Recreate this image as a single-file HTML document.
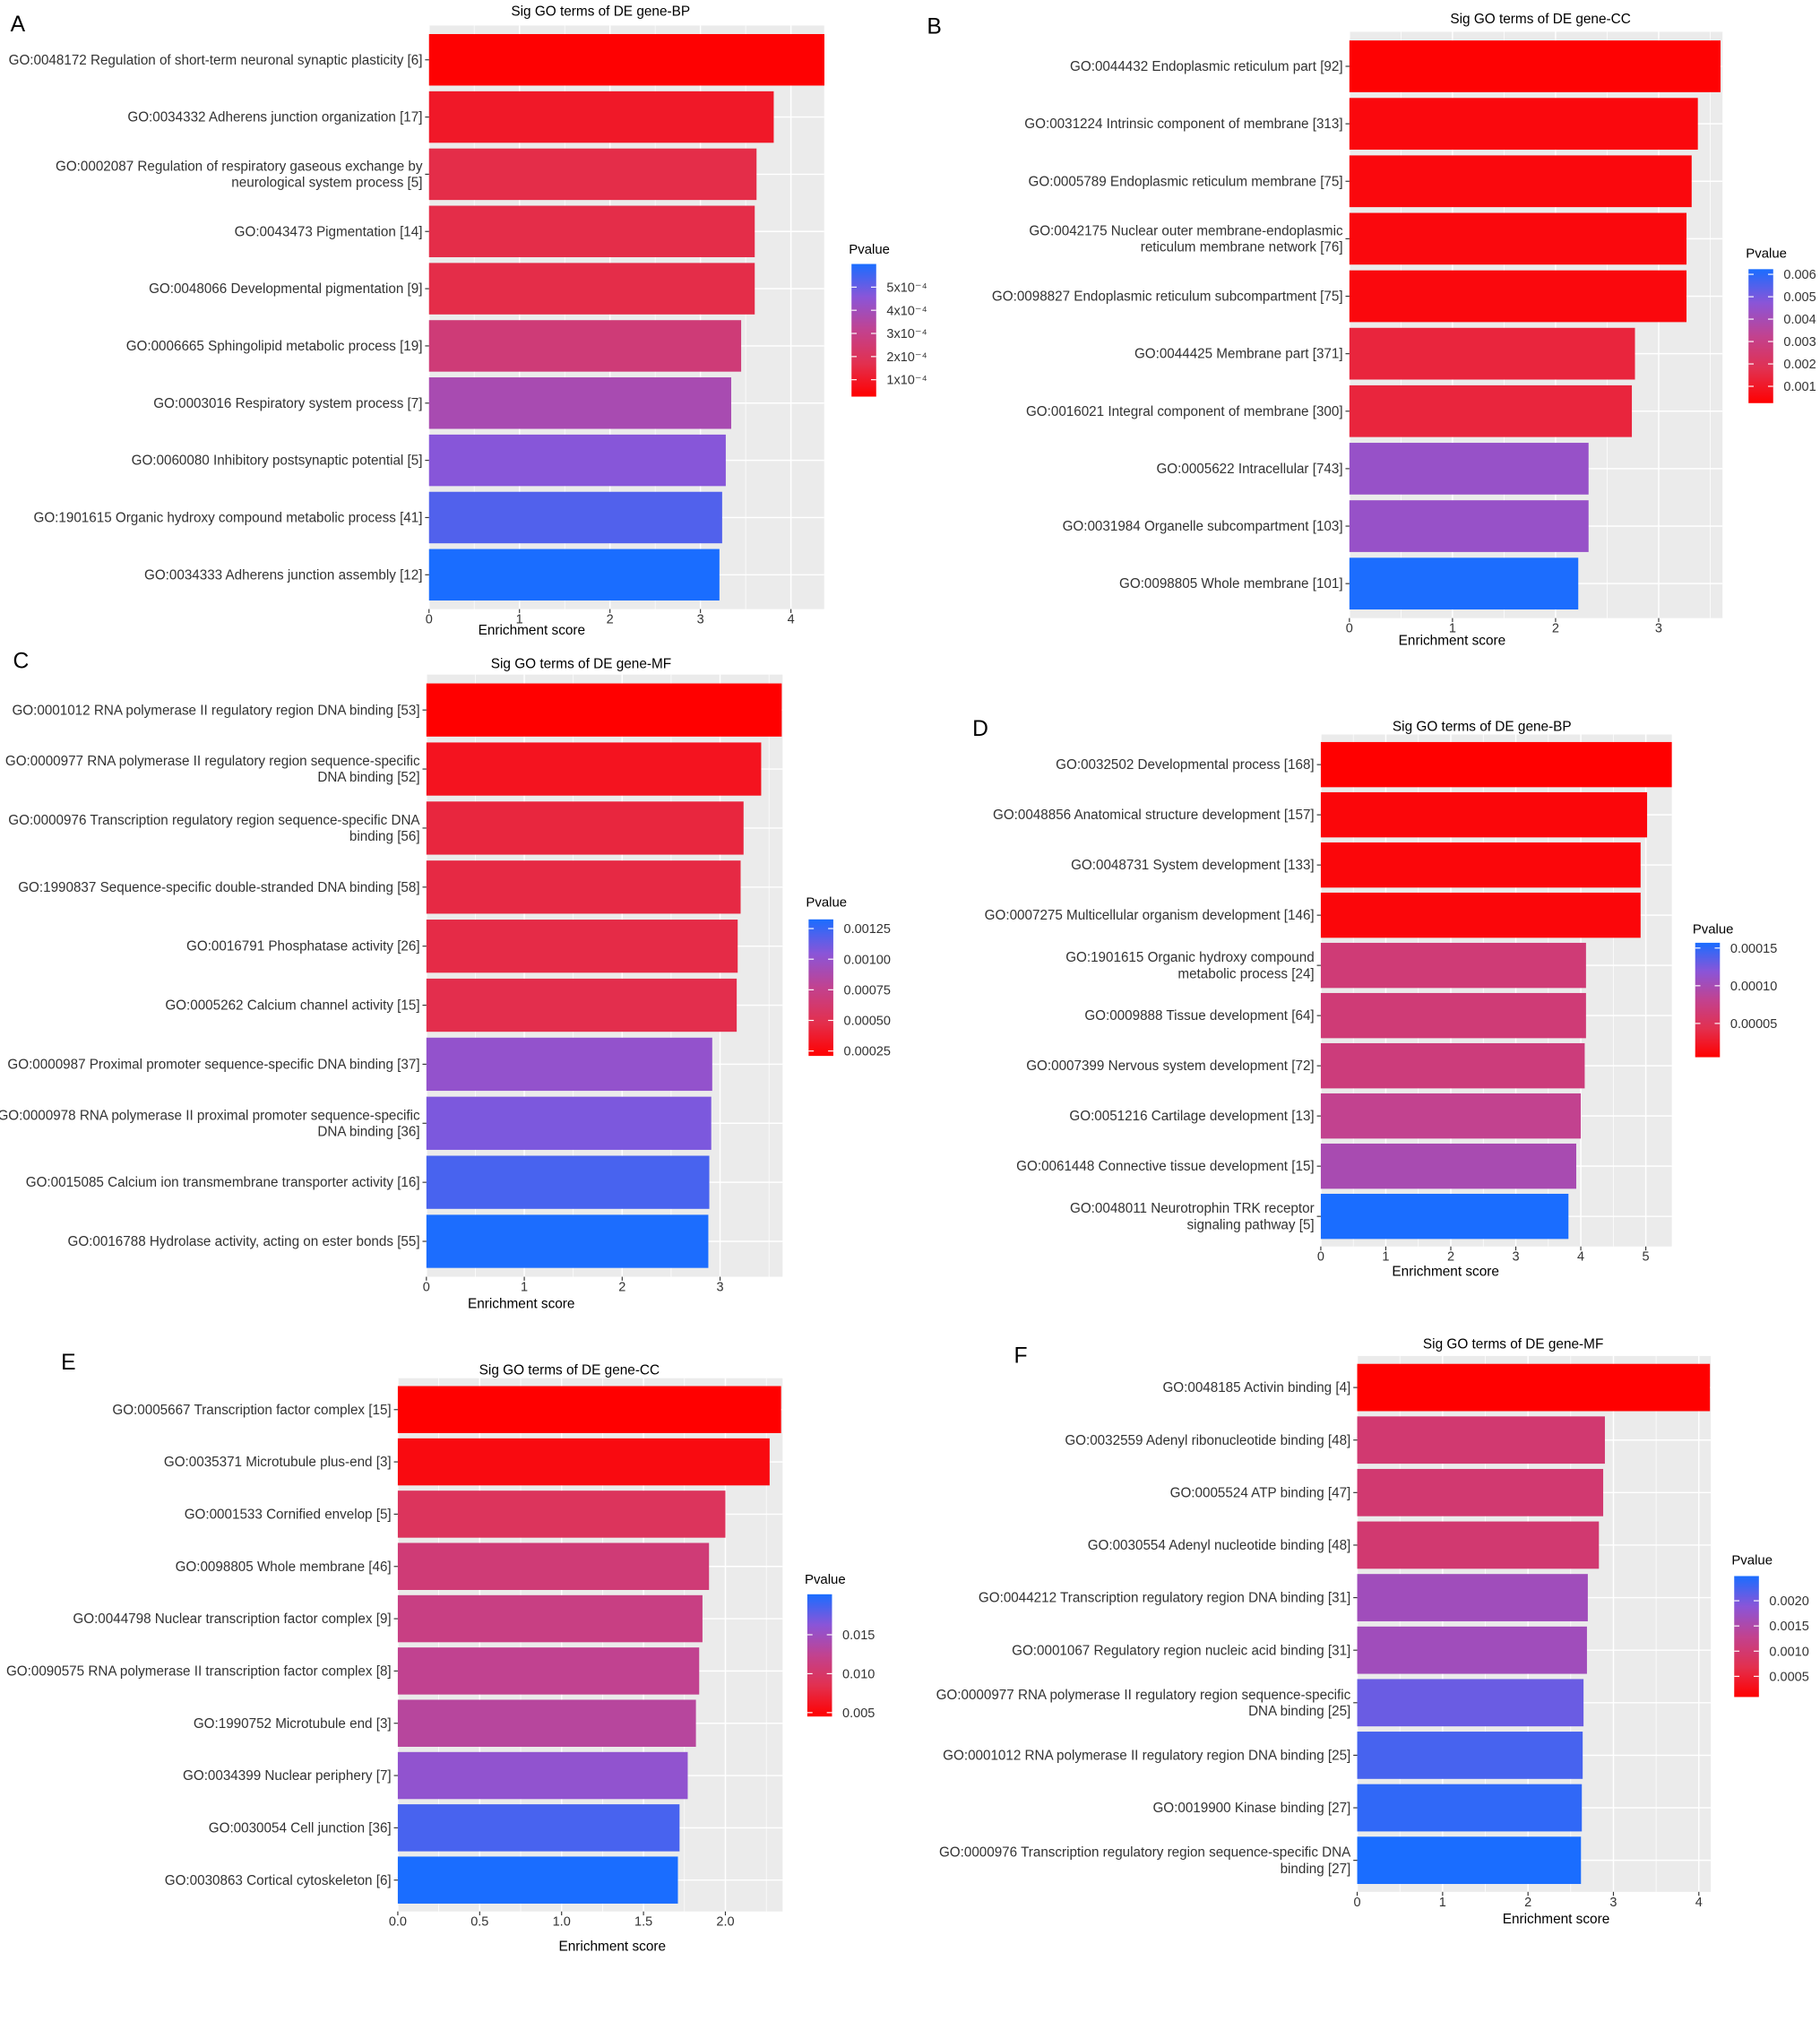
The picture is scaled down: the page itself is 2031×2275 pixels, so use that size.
<!DOCTYPE html>
<html><head><meta charset="utf-8"><title>Sig GO terms</title>
<style>
html,body{margin:0;padding:0;background:#fff;}
svg{display:block;font-family:"Liberation Sans",Arial,sans-serif;}
</style></head>
<body>
<svg id="fig" width="2031" height="2275" viewBox="0 0 1400 1568" preserveAspectRatio="none" xmlns="http://www.w3.org/2000/svg">
<defs>
<linearGradient id="pgrad" x1="0" y1="1" x2="0" y2="0">
<stop offset="0" stop-color="#ff0000"/><stop offset="0.25" stop-color="#e2304f"/><stop offset="0.5" stop-color="#c2428f"/><stop offset="0.75" stop-color="#8a55d8"/><stop offset="1" stop-color="#1a6dff"/>
</linearGradient>
</defs>
</svg>
<script>
// ---- Panel A data ----
const aTerms=["GO:0048172 Regulation of short-term neuronal synaptic plasticity [6]","GO:0034332 Adherens junction organization [17]","GO:0002087 Regulation of respiratory gaseous exchange by|neurological system process [5]","GO:0043473 Pigmentation [14]","GO:0048066 Developmental pigmentation [9]","GO:0006665 Sphingolipid metabolic process [19]","GO:0003016 Respiratory system process [7]","GO:0060080 Inhibitory postsynaptic potential [5]","GO:1901615 Organic hydroxy compound metabolic process [41]","GO:0034333 Adherens junction assembly [12]"];
const aScores=[4.37,3.81,3.62,3.6,3.6,3.45,3.34,3.28,3.24,3.21];
const aPvals=[0.3e-4,1.0e-4,1.6e-4,1.6e-4,1.6e-4,2.6e-4,3.8e-4,4.6e-4,5.3e-4,6.0e-4];
const aXTicks=[0,1,2,3,4];
const aLegendTicks=[1e-4,2e-4,3e-4,4e-4,5e-4];
const aLegendLabels=["1x10\u207B\u2074","2x10\u207B\u2074","3x10\u207B\u2074","4x10\u207B\u2074","5x10\u207B\u2074"];
// ---- Panel B data ----
const bTerms=["GO:0044432 Endoplasmic reticulum part [92]","GO:0031224 Intrinsic component of membrane [313]","GO:0005789 Endoplasmic reticulum membrane [75]","GO:0042175 Nuclear outer membrane-endoplasmic|reticulum membrane network [76]","GO:0098827 Endoplasmic reticulum subcompartment [75]","GO:0044425 Membrane part [371]","GO:0016021 Integral component of membrane [300]","GO:0005622 Intracellular [743]","GO:0031984 Organelle subcompartment [103]","GO:0098805 Whole membrane [101]"];
const bScores=[3.6,3.38,3.32,3.27,3.27,2.77,2.74,2.32,2.32,2.22];
const bPvals=[0.0003,0.0005,0.0005,0.0005,0.0005,0.0014,0.0014,0.0044,0.0044,0.0062];
const bXTicks=[0,1,2,3];
const bLegendTicks=[0.001,0.002,0.003,0.004,0.005,0.006];
const bLegendLabels=["0.001","0.002","0.003","0.004","0.005","0.006"];
// ---- Panel C data ----
const cTerms=["GO:0001012 RNA polymerase II regulatory region DNA binding [53]","GO:0000977 RNA polymerase II regulatory region sequence-specific|DNA binding [52]","GO:0000976 Transcription regulatory region sequence-specific DNA|binding [56]","GO:1990837 Sequence-specific double-stranded DNA binding [58]","GO:0016791 Phosphatase activity [26]","GO:0005262 Calcium channel activity [15]","GO:0000987 Proximal promoter sequence-specific DNA binding [37]","GO:0000978 RNA polymerase II proximal promoter sequence-specific|DNA binding [36]","GO:0015085 Calcium ion transmembrane transporter activity [16]","GO:0016788 Hydrolase activity, acting on ester bonds [55]"];
const cScores=[3.63,3.42,3.24,3.21,3.18,3.17,2.92,2.91,2.89,2.88];
const cPvals=[0.00021,0.00032,0.00043,0.00045,0.00046,0.00048,0.001,0.00108,0.00121,0.00132];
const cXTicks=[0,1,2,3];
const cLegendTicks=[0.00025,0.0005,0.00075,0.001,0.00125];
const cLegendLabels=["0.00025","0.00050","0.00075","0.00100","0.00125"];
// ---- Panel D data ----
const dTerms=["GO:0032502 Developmental process [168]","GO:0048856 Anatomical structure development [157]","GO:0048731 System development [133]","GO:0007275 Multicellular organism development [146]","GO:1901615 Organic hydroxy compound|metabolic process [24]","GO:0009888 Tissue development [64]","GO:0007399 Nervous system development [72]","GO:0051216 Cartilage development [13]","GO:0061448 Connective tissue development [15]","GO:0048011 Neurotrophin TRK receptor|signaling pathway [5]"];
const dScores=[5.4,5.02,4.92,4.92,4.08,4.08,4.06,4.0,3.93,3.81];
const dPvals=[0.5e-5,1e-5,1e-5,1e-5,6.6e-5,6.6e-5,6.9e-5,8.1e-5,9.9e-5,1.57e-4];
const dXTicks=[0,1,2,3,4,5];
const dLegendTicks=[0.00005,0.0001,0.00015];
const dLegendLabels=["0.00005","0.00010","0.00015"];
// ---- Panel E data ----
const eTerms=["GO:0005667 Transcription factor complex [15]","GO:0035371 Microtubule plus-end [3]","GO:0001533 Cornified envelop [5]","GO:0098805 Whole membrane [46]","GO:0044798 Nuclear transcription factor complex [9]","GO:0090575 RNA polymerase II transcription factor complex [8]","GO:1990752 Microtubule end [3]","GO:0034399 Nuclear periphery [7]","GO:0030054 Cell junction [36]","GO:0030863 Cortical cytoskeleton [6]"];
const eScores=[2.34,2.27,2.0,1.9,1.86,1.84,1.82,1.77,1.72,1.71];
const ePvals=[0.0045,0.0053,0.0092,0.0108,0.0116,0.0124,0.0131,0.0158,0.0186,0.0202];
const eXTicks=[0,0.5,1,1.5,2];
const eLegendTicks=[0.005,0.01,0.015];
const eLegendLabels=["0.005","0.010","0.015"];
// ---- Panel F data ----
const fTerms=["GO:0048185 Activin binding [4]","GO:0032559 Adenyl ribonucleotide binding [48]","GO:0005524 ATP binding [47]","GO:0030554 Adenyl nucleotide binding [48]","GO:0044212 Transcription regulatory region DNA binding [31]","GO:0001067 Regulatory region nucleic acid binding [31]","GO:0000977 RNA polymerase II regulatory region sequence-specific|DNA binding [25]","GO:0001012 RNA polymerase II regulatory region DNA binding [25]","GO:0019900 Kinase binding [27]","GO:0000976 Transcription regulatory region sequence-specific DNA|binding [27]"];
const fScores=[4.13,2.9,2.88,2.83,2.7,2.69,2.65,2.64,2.63,2.62];
const fPvals=[0.00009,0.001,0.001,0.001,0.00165,0.00165,0.00206,0.00225,0.00237,0.00249];
const fXTicks=[0,1,2,3,4];
const fLegendTicks=[0.0005,0.001,0.0015,0.002];
const fLegendLabels=["0.0005","0.0010","0.0015","0.0020"];

const NS="http://www.w3.org/2000/svg";
const svg=document.getElementById('fig');
function mk(tag,attrs,parent){const e=document.createElementNS(NS,tag);for(const k in attrs)e.setAttribute(k,attrs[k]);(parent||svg).appendChild(e);return e;}
const stops=[[0,[255,0,0]],[0.25,[226,48,79]],[0.5,[194,66,143]],[0.75,[138,85,216]],[1,[26,109,255]]];
function colorFor(t){t=Math.max(0,Math.min(1,t));for(let i=1;i<stops.length;i++){if(t<=stops[i][0]){const a=stops[i-1],b=stops[i];const u=(t-a[0])/(b[0]-a[0]);const c=a[1].map((v,j)=>Math.round(v+(b[1][j]-v)*u));return `rgb(${c[0]},${c[1]},${c[2]})`;}}return 'rgb(26,109,255)';}

const panels=[
 {id:'a',letter:'A',lx:8,ly:24,title:'Sig GO terms of DE gene-BP',terms:aTerms,scores:aScores,pvals:aPvals,xt:aXTicks,x0:330,x1:634,ppu:69.6,c0:46,step:44,tx:462,ty:12,ax:409,axy:488,lg:{x:655,y0:203,y1:305,pmax:6.0e-4,pmin:0.27e-4,ticks:aLegendTicks,labels:aLegendLabels,tyy:195}},
 {id:'b',letter:'B',lx:713,ly:26,title:'Sig GO terms of DE gene-CC',terms:bTerms,scores:bScores,pvals:bPvals,xt:bXTicks,x0:1038,x1:1325,ppu:79.3,c0:51,step:44.2,tx:1185,ty:18,ax:1117,axy:496,lg:{x:1345,y0:207,y1:310,pmax:0.00623,pmin:0.00025,ticks:bLegendTicks,labels:bLegendLabels,tyy:198}},
 {id:'c',letter:'C',lx:10,ly:514,title:'Sig GO terms of DE gene-MF',terms:cTerms,scores:cScores,pvals:cPvals,xt:cXTicks,x0:328,x1:602,ppu:75.3,c0:546,step:45.4,tx:447,ty:514,ax:401,axy:1006,lg:{x:622,y0:707,y1:812,pmax:0.001325,pmin:0.00021,ticks:cLegendTicks,labels:cLegendLabels,tyy:697}},
 {id:'d',letter:'D',lx:748,ly:566,title:'Sig GO terms of DE gene-BP',terms:dTerms,scores:dScores,pvals:dPvals,xt:dXTicks,x0:1016,x1:1286,ppu:50,c0:588,step:38.6,tx:1140,ty:562,ax:1112,axy:981,lg:{x:1304,y0:725,y1:813,pmax:0.000157,pmin:0.0000052,ticks:dLegendTicks,labels:dLegendLabels,tyy:718}},
 {id:'e',letter:'E',lx:47,ly:1053,title:'Sig GO terms of DE gene-CC',terms:eTerms,scores:eScores,pvals:ePvals,xt:eXTicks,x0:306,x1:602,ppu:126,c0:1084,step:40.2,tx:438,ty:1057,ax:471,axy:1500,lg:{x:621,y0:1226,y1:1320,pmax:0.0202,pmin:0.0045,ticks:eLegendTicks,labels:eLegendLabels,tyy:1218}},
 {id:'f',letter:'F',lx:780,ly:1048,title:'Sig GO terms of DE gene-MF',terms:fTerms,scores:fScores,pvals:fPvals,xt:fXTicks,x0:1044,x1:1316,ppu:65.7,c0:1067,step:40.4,tx:1164,ty:1037,ax:1197,axy:1479,lg:{x:1334,y0:1212,y1:1305,pmax:0.00249,pmin:0.00009,ticks:fLegendTicks,labels:fLegendLabels,tyy:1203}}
];

panels.forEach(P=>{
 const g=mk('g',{});
 
 
 const n=P.terms.length;
 const py0=P.c0-0.6*P.step, py1=P.c0+(n-1)*P.step+0.6*P.step;
 const xs=v=>P.x0+v*P.ppu;
 const ys=i=>P.c0+i*P.step;
 const lt=mk('text',{x:P.lx,y:P.ly,'font-size':17,fill:'#000'},g);lt.textContent=P.letter;
 
 
 const bg=mk('rect',{x:P.x0,y:py0,width:P.x1-P.x0,height:py1-py0,fill:'#ebebeb'},g);
 
 
 P.xt.forEach((t,k)=>{
  mk('line',{x1:xs(t),x2:xs(t),y1:py0,y2:py1,stroke:'#fff','stroke-width':1},g);
  if(k<P.xt.length-1){const m=(t+P.xt[k+1])/2;mk('line',{x1:xs(m),x2:xs(m),y1:py0,y2:py1,stroke:'#fff','stroke-width':0.5},g);}
 });
 const last=P.xt[P.xt.length-1]+(P.xt[1]-P.xt[0])/2;
 if(xs(last)<P.x1)mk('line',{x1:xs(last),x2:xs(last),y1:py0,y2:py1,stroke:'#fff','stroke-width':0.5},g);
 for(let i=0;i<n;i++)mk('line',{x1:P.x0,x2:P.x1,y1:ys(i),y2:ys(i),stroke:'#fff','stroke-width':1},g);
 for(let i=0;i<n;i++){
  const t=(P.pvals[i]-P.lg.pmin)/(P.lg.pmax-P.lg.pmin);
  const r=mk('rect',{x:P.x0,y:ys(i)-0.45*P.step,width:P.scores[i]*P.ppu,height:0.9*P.step,fill:colorFor(t)},g);
  
  
  const lines=P.terms[i].split('|');
  mk('line',{x1:P.x0-3,x2:P.x0,y1:ys(i),y2:ys(i),stroke:'#333','stroke-width':0.8},g);
  lines.forEach((s,j)=>{
   const yy=ys(i)+3.5+(j-(lines.length-1)/2)*12.5;
   const tx=mk('text',{x:P.x0-5,y:yy,'font-size':10.5,'text-anchor':'end',fill:'#333'},g);tx.textContent=s;
   
   
  });
 }
 P.xt.forEach(t=>{
  mk('line',{x1:xs(t),x2:xs(t),y1:py1,y2:py1+3,stroke:'#333','stroke-width':0.8},g);
  const tx=mk('text',{x:xs(t),y:py1+11,'font-size':10,'text-anchor':'middle',fill:'#333'},g);
  tx.textContent=(P.id==='e')?t.toFixed(1):String(t);
  
  
 });
 const at=mk('text',{x:P.ax,y:P.axy,'font-size':10.6,'text-anchor':'middle',fill:'#000'},g);
 at.textContent='Enrichment score';
 
 
 const tt=mk('text',{x:P.tx,y:P.ty,'font-size':10.6,'text-anchor':'middle',fill:'#000'},g);
 tt.textContent=P.title;
 
 
 const L=P.lg;
 const lgT=mk('text',{x:L.x-2,y:L.tyy,'font-size':10.3,fill:'#000'},g);lgT.textContent='Pvalue';
 
 
 const cb=mk('rect',{x:L.x,y:L.y0,width:19,height:L.y1-L.y0,fill:'url(#pgrad)'},g);
 
 
 L.ticks.forEach((v,k)=>{
  const y=L.y1-(v-L.pmin)/(L.pmax-L.pmin)*(L.y1-L.y0);
  mk('line',{x1:L.x,x2:L.x+4,y1:y,y2:y,stroke:'#fff','stroke-width':0.8},g);
  mk('line',{x1:L.x+15,x2:L.x+19,y1:y,y2:y,stroke:'#fff','stroke-width':0.8},g);
  const tx=mk('text',{x:L.x+27,y:y+3.5,'font-size':10,fill:'#333'},g);tx.textContent=L.labels[k];
  
  
 });
});
</script>
</body></html>
